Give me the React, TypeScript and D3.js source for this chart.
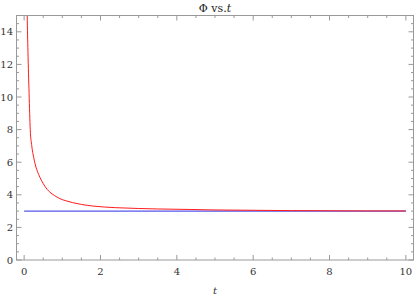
import { useEffect, useRef } from 'react';
import * as d3 from 'd3';

// red curve: Phi(t)
const phiT = [0.07, 0.08, 0.1, 0.13, 0.16, 0.2, 0.25, 0.31, 0.38, 0.45, 0.55, 0.66, 0.8, 0.92, 1.1, 1.27, 1.5, 1.8, 2.1, 2.4, 3, 3.5, 4.35, 5, 6, 7, 8, 9, 10];
const phiV = [16.5, 15, 12.8, 10.2, 8.0, 7.0, 6.3, 5.7, 5.25, 4.9, 4.5, 4.19, 3.95, 3.78, 3.63, 3.52, 3.41, 3.31, 3.25, 3.21, 3.16, 3.13, 3.1, 3.07, 3.05, 3.03, 3.02, 3.01, 3.01];
// blue line: constant level
const baseT = [0, 10];
const baseV = [3, 3];

const xTicks = [0, 2, 4, 6, 8, 10];
const yTicks = [0, 2, 4, 6, 8, 10, 12, 14];

export default function App() {
  const svgRef = useRef<SVGSVGElement>(null);

  useEffect(() => {
    if (!svgRef.current) return;
    const svg = d3.select(svgRef.current);
    svg.selectAll('*').remove();

    const width = 414;
    const height = 299;
    const left = 16.5, right = 413.5, top = 15.5, bottom = 260;
    const font = "'DejaVu Serif', serif";
    const frameColor = '#999';

    const x = d3.scaleLinear().domain([-0.2, 10.2]).range([left, right]);
    const y = d3.scaleLinear().domain([0, 15]).range([bottom, top]);

    svg.attr('width', width).attr('height', height);

    svg.append('defs').append('clipPath').attr('id', 'plot-clip')
      .append('rect')
      .attr('x', left).attr('y', top)
      .attr('width', right - left).attr('height', bottom - top);

    const plot = svg.append('g').attr('clip-path', 'url(#plot-clip)');

    const line = d3.line<[number, number]>()
      .x(d => x(d[0]))
      .y(d => y(d[1]))
      .curve(d3.curveMonotoneX);

    plot.append('path')
      .datum(baseT.map((t, i) => [t, baseV[i]] as [number, number]))
      .attr('d', line)
      .attr('fill', 'none')
      .attr('stroke', '#2a2ae6')
      .attr('stroke-width', 1);

    plot.append('path')
      .datum(phiT.map((t, i) => [t, phiV[i]] as [number, number]))
      .attr('d', line)
      .attr('fill', 'none')
      .attr('stroke', '#ff1a1a')
      .attr('stroke-width', 1);

    // frame
    svg.append('rect')
      .attr('x', left).attr('y', top)
      .attr('width', right - left).attr('height', bottom - top)
      .attr('fill', 'none')
      .attr('stroke', frameColor)
      .attr('stroke-width', 1);

    // ticks on all four sides
    const xMinor = d3.range(0, 10.01, 0.5).filter(v => !xTicks.includes(v));
    const yMinor = d3.range(0, 15.01, 0.5).filter(v => !yTicks.includes(v));
    const ticks = svg.append('g').attr('stroke', frameColor).attr('stroke-width', 1);

    xTicks.forEach(v => {
      ticks.append('line').attr('x1', x(v)).attr('x2', x(v)).attr('y1', bottom).attr('y2', bottom - 5);
      ticks.append('line').attr('x1', x(v)).attr('x2', x(v)).attr('y1', top).attr('y2', top + 5);
    });
    xMinor.forEach(v => {
      ticks.append('line').attr('x1', x(v)).attr('x2', x(v)).attr('y1', bottom).attr('y2', bottom - 2.5);
      ticks.append('line').attr('x1', x(v)).attr('x2', x(v)).attr('y1', top).attr('y2', top + 2.5);
    });
    yTicks.forEach(v => {
      ticks.append('line').attr('x1', left).attr('x2', left + 5).attr('y1', y(v)).attr('y2', y(v));
      ticks.append('line').attr('x1', right).attr('x2', right - 5).attr('y1', y(v)).attr('y2', y(v));
    });
    yMinor.forEach(v => {
      ticks.append('line').attr('x1', left).attr('x2', left + 2.5).attr('y1', y(v)).attr('y2', y(v));
      ticks.append('line').attr('x1', right).attr('x2', right - 2.5).attr('y1', y(v)).attr('y2', y(v));
    });

    // tick labels
    svg.selectAll('.x-label')
      .data(xTicks)
      .join('text')
      .attr('class', 'x-label')
      .attr('x', d => x(d))
      .attr('y', 275)
      .attr('text-anchor', 'middle')
      .style('font-family', font)
      .style('font-size', '10px')
      .attr('fill', '#333')
      .text(d => d);

    svg.selectAll('.y-label')
      .data(yTicks)
      .join('text')
      .attr('class', 'y-label')
      .attr('x', 13)
      .attr('y', d => y(d) + 3.5)
      .attr('text-anchor', 'end')
      .style('font-family', font)
      .style('font-size', '10px')
      .attr('fill', '#333')
      .text(d => d);

    // title
    const title = svg.append('text')
      .attr('x', (left + right) / 2)
      .attr('y', 12)
      .attr('text-anchor', 'middle')
      .style('font-family', font)
      .style('font-size', '11px')
      .attr('fill', '#222');
    title.append('tspan').text('Φ vs.');
    title.append('tspan').style('font-style', 'italic').text('t');

    // axis label
    svg.append('text')
      .attr('x', (left + right) / 2)
      .attr('y', 294)
      .attr('text-anchor', 'middle')
      .style('font-family', font)
      .style('font-style', 'italic')
      .style('font-size', '10px')
      .attr('fill', '#333')
      .text('t');
  }, []);

  return (
    <svg ref={svgRef} style={{ position: 'absolute', left: 0, top: 0, background: '#fff' }} />
  );
}
